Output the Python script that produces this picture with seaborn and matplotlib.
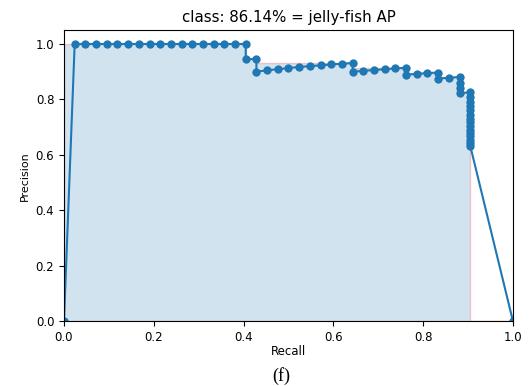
import numpy as np
import seaborn as sns
import matplotlib
matplotlib.use("Agg")
import matplotlib.pyplot as plt

# per detection (sorted by confidence): recall and precision, 42 ground-truth objects
recall = [0.0238, 0.0476, 0.0714, 0.0952, 0.1190, 0.1429, 0.1667, 0.1905, 0.2143, 0.2381,
          0.2619, 0.2857, 0.3095, 0.3333, 0.3571, 0.3810, 0.4048, 0.4048, 0.4286, 0.4286,
          0.4524, 0.4762, 0.5000, 0.5238, 0.5476, 0.5714, 0.5952, 0.6190, 0.6429, 0.6429,
          0.6667, 0.6905, 0.7143, 0.7381, 0.7619, 0.7619, 0.7857, 0.8095, 0.8333, 0.8333,
          0.8571, 0.8810, 0.8810, 0.8810, 0.8810, 0.9048, 0.9048, 0.9048, 0.9048, 0.9048,
          0.9048, 0.9048, 0.9048, 0.9048, 0.9048, 0.9048, 0.9048, 0.9048, 0.9048, 0.9048]
precision = [1.0, 1.0, 1.0, 1.0, 1.0, 1.0, 1.0, 1.0, 1.0, 1.0,
             1.0, 1.0, 1.0, 1.0, 1.0, 1.0, 1.0, 0.944, 0.947, 0.900,
             0.905, 0.909, 0.913, 0.917, 0.920, 0.923, 0.926, 0.929, 0.931, 0.900,
             0.903, 0.906, 0.909, 0.912, 0.914, 0.889, 0.892, 0.895, 0.897, 0.875,
             0.878, 0.881, 0.860, 0.841, 0.822, 0.826, 0.809, 0.792, 0.776, 0.760,
             0.745, 0.731, 0.717, 0.704, 0.691, 0.679, 0.667, 0.655, 0.644, 0.633]
class_name = "jelly-fish"
ap = 0.8614

# curve endpoints as in the VOC AP computation
mrec = [0.0] + recall + [1.0]
mpre = [0.0] + precision + [0.0]

# interpolated (monotone) precision envelope
env = np.maximum.accumulate(np.array(mpre)[::-1])[::-1].tolist()
area_x = mrec[:-1] + [mrec[-2]] + [mrec[-1]]
area_y = env[:-1] + [0.0] + [env[-1]]

plt.rcParams["font.size"] = 8.5
fig = plt.figure(figsize=(5.31, 3.86), dpi=100)
ax = fig.add_axes([0.1205, 0.168, 0.8455, 0.754])

sns.lineplot(x=mrec, y=mpre, sort=False, estimator=None, marker="o",
             markersize=6, markeredgewidth=0, color="#1f77b4", ax=ax)
ax.fill_between(area_x, 0, area_y, alpha=0.2, edgecolor="r")

ax.set_xlim(0.0, 1.0)
ax.set_ylim(0.0, 1.05)
ax.set_title("class: {:.2f}% = {} AP".format(ap * 100, class_name), fontsize=10.8)
ax.set_xlabel("Recall", labelpad=1)
ax.set_ylabel("Precision", fontsize=8)

fig.text(0.529, 0.012, "(f)", family="Liberation Serif", fontsize=13, ha="center")

fig.savefig("out.png", dpi=100)
